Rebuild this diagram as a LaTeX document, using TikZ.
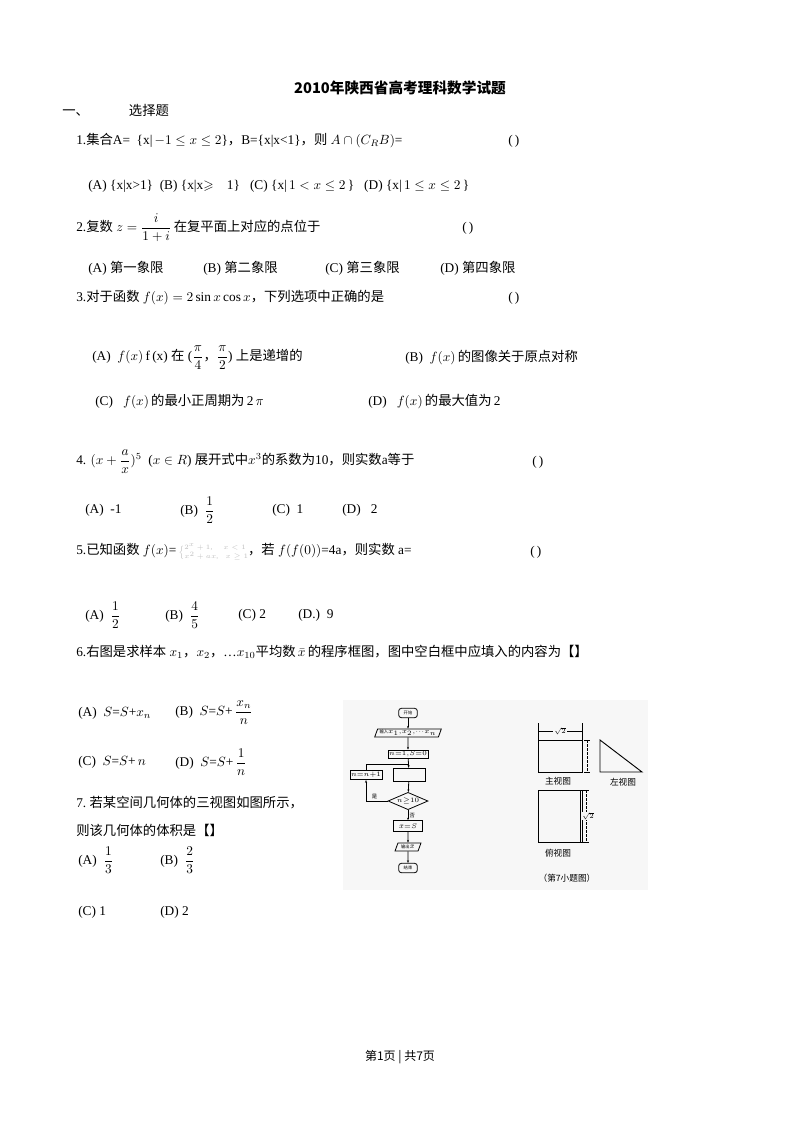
\documentclass[tikz,border=0pt]{standalone}
\usepackage{amsmath,amssymb}
\usepackage{fontspec}
\usetikzlibrary{shapes.geometric,arrows.meta}
\setmainfont{Liberation Serif}
\newfontfamily\cjk{Noto Sans CJK SC}
\newcommand{\cm}{{\cjk ，}}
\begin{document}
\begin{tikzpicture}[x=0.75pt,y=-0.75pt,
  t/.style={anchor=west,inner sep=0pt,font=\fontsize{10}{12}\selectfont},
  fc/.style={draw,line width=0.6pt,inner sep=0.8pt,font=\fontsize{3.2}{4}\selectfont\cjk},
  fl/.style={line width=0.6pt,-{Stealth[length=2pt]}},
  lab/.style={inner sep=0pt,font=\fontsize{6.5}{7}\selectfont\cjk}]
\useasboundingbox (0,0) rectangle (800,1132);
\node[inner sep=0pt,font=\fontsize{11}{13}\selectfont\cjk\bfseries] (title) at (400,88) {2010年陕西省高考理科数学试题};
\node[t] (s1) at (62,110) {\cjk 一、\hspace{3em}选择题};
\node[t] (q1) at (76,141) {1.{\cjk 集合}A=\ \ \{x|\,$-1\le x\le 2$\}\cm B=\{x|x<1\}\cm{\cjk 则} $A\cap(C_RB)$=};
\node[t] (q1p) at (508,141) {(\,)};
\node[t] (q1o) at (88,186) {(A)\ \{x|x>1\}\ \ (B)\ \{x|x$\geqslant$\ \ \ \ 1\}\ \ \ (C)\ \{x|\,$1<x\le2$\,\}\ \ \ (D)\ \{x|\,$1\le x\le 2$\,\}};
\node[t] (q2) at (76,228) {2.{\cjk 复数} $z=\dfrac{i}{1+i}$\,{\cjk 在复平面上对应的点位于}};
\node[t] (q2p) at (462,228) {(\,)};
\node[t] (q2a) at (88,268) {(A) {\cjk 第一象限}};
\node[t] (q2b) at (203,268) {(B) {\cjk 第二象限}};
\node[t] (q2c) at (325,268) {(C) {\cjk 第三象限}};
\node[t] (q2d) at (440,268) {(D) {\cjk 第四象限}};
\node[t] (q3) at (76,298) {3.{\cjk 对于函数} $f(x)=2\sin x\cos x$\cm{\cjk 下列选项中正确的是}};
\node[t] (q3p) at (508,298) {(\,)};
\node[t] (q3a) at (92,358) {(A)\ \ $f(x)$\,f\,(x)\ {\cjk 在}\ ($\dfrac{\pi}{4}$\cm$\dfrac{\pi}{2}$)\ {\cjk 上是递增的}};
\node[t] (q3b) at (405,358) {(B)\ \ $f(x)$\,{\cjk 的图像关于原点对称}};
\node[t] (q3c) at (95,402) {(C)\ \ \ $f(x)$\,{\cjk 的最小正周期为}\,2\,$\pi$};
\node[t] (q3d) at (368,402) {(D)\ \ \ $f(x)$\,{\cjk 的最大值为}\,2};
\node[t] (q4) at (76,462) {4. $(x+\dfrac{a}{x})^5$\ \ ($x\in R$)\ {\cjk 展开式中}$x^3${\cjk 的系数为}10\cm{\cjk 则实数}a{\cjk 等于}};
\node[t] (q4p) at (532,462) {(\,)};
\node[t] (q4a) at (85,510) {(A)\ \ -1};
\node[t] (q4b) at (180,510) {(B)\ \ $\dfrac{1}{2}$};
\node[t] (q4c) at (272,510) {(C)\ \ 1};
\node[t] (q4d) at (342,510) {(D)\ \ \ 2};
\node[t] (q5) at (76,552) {5.{\cjk 已知函数} $f(x)$=\,{\color{gray!50}\fontsize{5.5}{6}\selectfont$\Big\{$\begin{tabular}{@{}l@{}}$2^x+1$,\ \ \ \ \ \ $x<1$\\ $x^2+ax$,\ \ \ \ $x\ge1$\end{tabular}}\cm{\cjk 若} $f(f(0))$=4a\cm{\cjk 则实数} a=};
\node[t] (q5p) at (530,552) {(\,)};
\node[t] (q5a) at (85,615) {(A)\ \ $\dfrac{1}{2}$};
\node[t] (q5b) at (165,615) {(B)\ \ $\dfrac{4}{5}$};
\node[t] (q5c) at (238,615) {(C) 2};
\node[t] (q5d) at (298,615) {(D.)\ \ 9};
\node[t] (q6) at (76,652) {6.{\cjk 右图是求样本} $x_1$\cm$x_2$\cm\dots$x_{10}${\cjk 平均数}\,$\bar{x}$\,{\cjk 的程序框图，图中空白框中应填入的内容为【】}};
\node[t] (q6a) at (78,713) {(A)\ \ $S$=$S$+$x_n$};
\node[t] (q6b) at (175,713) {(B)\ \ $S$=$S$+\,$\dfrac{x_n}{n}$};
\node[t] (q6c) at (78,762) {(C)\ \ $S$=$S$+\,$n$};
\node[t] (q6d) at (175,762) {(D)\ \ $S$=$S$+\,$\dfrac{1}{n}$};
\node[t] (q7) at (76,803) {7.\ {\cjk 若某空间几何体的三视图如图所示，}};
\node[t] (q7b) at (76,830) {\cjk 则该几何体的体积是【】};
\node[t] (q7a1) at (78,860) {(A)\ \ $\dfrac{1}{3}$};
\node[t] (q7a2) at (160,860) {(B)\ \ $\dfrac{2}{3}$};
\node[t] (q7a3) at (78,912) {(C) 1};
\node[t] (q7a4) at (160,912) {(D) 2};
\node[inner sep=0pt,font=\fontsize{9}{11}\selectfont\cjk] (foot) at (400,1057) {第1页 | 共7页};
% figure
\fill[gray!6] (343,700) rectangle (648,890);
\node[fc,rounded corners=2pt,minimum width=14pt,minimum height=7pt] (st) at (408,713) {开始};
\node[fc,trapezium,trapezium left angle=70,trapezium right angle=110,minimum width=40pt,minimum height=6pt] (in) at (408,733) {输入$\scriptscriptstyle x_1,x_2,\cdots x_n$};
\node[fc,minimum width=22pt,minimum height=6pt] (init) at (408,754) {$\scriptscriptstyle n=1,S=0$};
\node[fc,minimum width=24pt,minimum height=10pt] (blank) at (409,775) {};
\node[fc,minimum width=16pt,minimum height=7pt] (inc) at (366,775) {$\scriptscriptstyle n=n+1$};
\node[fc,diamond,aspect=2.4,minimum width=30pt,minimum height=13pt,inner sep=0pt] (dec) at (408,801) {$\scriptscriptstyle n\ge10$};
\node[fc,minimum width=22pt,minimum height=8pt] (avg) at (408,826) {$\scriptscriptstyle \bar x=S$};
\node[fc,trapezium,trapezium left angle=70,trapezium right angle=110,minimum width=18pt,minimum height=6pt] (out) at (408,847) {输出$\scriptscriptstyle\bar x$};
\node[fc,rounded corners=2pt,minimum width=14pt,minimum height=7pt] (en) at (408,868) {结束};
\coordinate (j) at (408,764);
\draw[fl] (st) -- (in);
\draw[fl] (in) -- (init);
\draw[fl] (init) -- (blank);
\draw[fl] (blank) -- (dec);
\draw[fl] (dec) -- node[right,inner sep=1pt,font=\fontsize{4}{4}\selectfont\cjk]{否} (avg);
\draw[fl] (avg) -- (out);
\draw[fl] (out) -- (en);
\draw[fl] (dec.west) -- node[above,inner sep=1pt,font=\fontsize{4}{4}\selectfont\cjk,pos=0.6]{是} (dec.west -| inc.south) -- (inc.south);
\draw[line width=0.6pt] (inc.north) |- (j);
% three views
\draw[line width=0.7pt] (538,740) rectangle (582,772);
\draw[line width=0.5pt] (538,723) -- (538,740) (582,723) -- (582,740);
\draw[line width=0.5pt] (538,731) -- (582,731);
\node[inner sep=0.5pt,fill=gray!6,font=\fontsize{5}{5}\selectfont] (d1) at (560,731) {$\sqrt2$};
\draw[line width=0.5pt,dash pattern=on 2pt off 1pt] (587,740) -- (587,772);
\draw[line width=0.5pt] (584,740) -- (590,740) (584,772) -- (590,772);
\draw[line width=0.7pt] (600,740) -- (600,772) -- (642,772) -- cycle;
\draw[line width=0.7pt] (538,790) rectangle (582,842);
\draw[line width=0.5pt] (580,790) -- (580,842);
\draw[line width=0.5pt,dash pattern=on 2pt off 1pt] (586,790) -- (586,842);
\draw[line width=0.5pt] (583,790) -- (589,790) (583,842) -- (589,842);
\node[inner sep=0.5pt,fill=gray!6,font=\fontsize{5}{5}\selectfont] (d2) at (588,816) {$\sqrt2$};
\node[lab] (l1) at (558,781) {主视图};
\node[lab] (l2) at (623,782) {左视图};
\node[lab] (l3) at (558,853) {俯视图};
\node[lab] (l4) at (567,878) {（第7小题图）};
\end{tikzpicture}
\end{document}
